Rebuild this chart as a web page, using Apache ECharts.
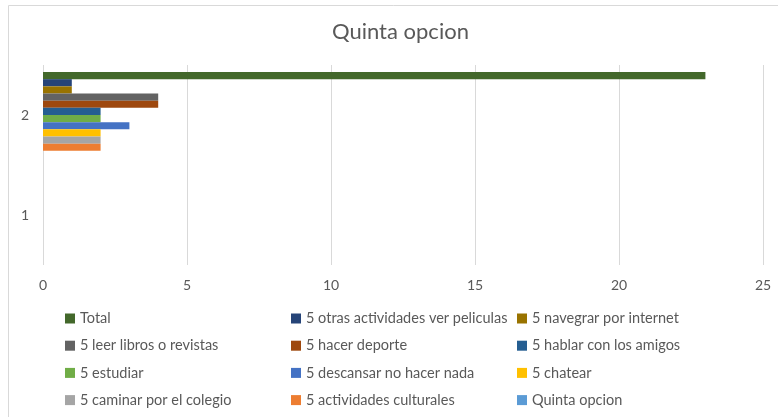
<!DOCTYPE html>
<html><head><meta charset="utf-8">
<script src="https://cdn.jsdelivr.net/npm/echarts@6/dist/echarts.min.js"></script>
<style>html,body{margin:0;padding:0;background:#fff}#c{width:778px;height:417px}</style>
</head><body><div id="c"></div>
<script>
const categories = ['1', '2'];
const seriesNames = ['Total', '5 otras actividades ver peliculas', '5 navegrar por internet', '5 leer libros o revistas', '5 hacer deporte', '5 hablar con los amigos', '5 estudiar', '5 descansar no hacer nada', '5 chatear', '5 caminar por el colegio', '5 actividades culturales', 'Quinta opcion'];
const total = [null, 23];
const otras = [null, 1];
const navegar = [null, 1];
const leer = [null, 4];
const deporte = [null, 4];
const hablar = [null, 2];
const estudiar = [null, 2];
const descansar = [null, 3];
const chatear = [null, 2];
const caminar = [null, 2];
const culturales = [null, 2];
const quinta = [null, null];
const xTicks = [0, 5, 10, 15, 20, 25];
const colors = ['#43682B', '#264478', '#997300', '#636363', '#9E480E', '#255E91', '#70AD47', '#4472C4', '#FFC000', '#A5A5A5', '#ED7D31', '#5B9BD5'];
const values = [total, otras, navegar, leer, deporte, hablar, estudiar, descansar, chatear, caminar, culturales, quinta];

const font = 'Lato, "Open Sans", sans-serif';
const series = seriesNames.map((n, i) => ({
  name: n, type: 'bar', data: values[i],
  itemStyle: { color: colors[i] },
  barGap: '0%', barCategoryGap: '14%'
}));

const legendCommon = {
  orient: 'vertical', itemWidth: 10, itemHeight: 10, itemGap: 12.2, icon: 'rect', height: 130,
  textStyle: { color: '#595959', fontSize: 14.5, fontFamily: font }
};
const chart = echarts.init(document.getElementById('c'));
chart.setOption({
  animation: false,
  title: { text: 'Quinta opcion', left: 327, top: 16, textStyle: { color: '#595959', fontSize: 22, fontWeight: 'normal', fontFamily: font } },
  grid: { left: 43, right: 15, top: 65, height: 200 },
  xAxis: { type: 'value', min: 0, max: 25, interval: 5,
    axisLine: { show: false }, axisTick: { show: false },
    splitLine: { lineStyle: { color: '#D9D9D9' } },
    axisLabel: { color: '#595959', fontSize: 14, fontFamily: font, margin: 13 } },
  yAxis: { type: 'category', data: categories,
    axisLine: { show: false }, axisTick: { show: false },
    axisLabel: { color: '#595959', fontSize: 14, fontFamily: font, margin: 14 } },
  legend: [
    Object.assign({ left: 60, top: 306, data: [seriesNames[0], seriesNames[3], seriesNames[6], seriesNames[9]] }, legendCommon),
    Object.assign({ left: 286, top: 306, data: [seriesNames[1], seriesNames[4], seriesNames[7], seriesNames[10]] }, legendCommon),
    Object.assign({ left: 512, top: 306, data: [seriesNames[2], seriesNames[5], seriesNames[8], seriesNames[11]] }, legendCommon)
  ],
  graphic: [{ type: 'rect', shape: { x: 8.5, y: 5.5, width: 900, height: 600 }, style: { fill: 'none', stroke: '#D9D9D9', lineWidth: 1 }, silent: true }],
  series: series
});
</script></body></html>
